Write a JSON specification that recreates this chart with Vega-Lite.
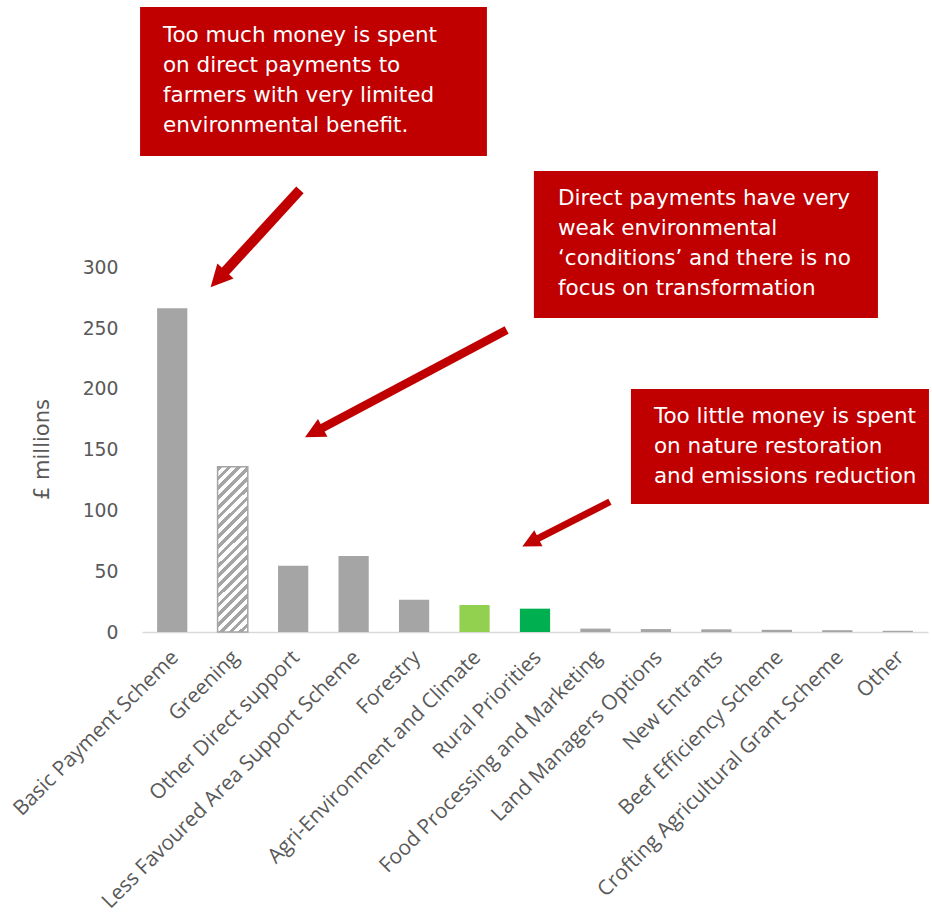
{
  "$schema": "https://vega.github.io/schema/vega-lite/v6.json",
  "width": 786,
  "height": 632,
  "autosize": {"type": "none"},
  "padding": {"left": 142, "top": 0, "right": 4, "bottom": 283},
  "background": "#FFFFFF",
  "config": {"view": {"stroke": null}},
  "datasets": {
    "bars": [
      {"category": "Basic Payment Scheme", "value": 266.4, "kind": "standard"},
      {"category": "Greening", "value": 136.0, "kind": "greening"},
      {"category": "Other Direct support", "value": 54.6, "kind": "standard"},
      {"category": "Less Favoured Area Support Scheme", "value": 62.5, "kind": "standard"},
      {"category": "Forestry", "value": 26.6, "kind": "standard"},
      {"category": "Agri-Environment and Climate", "value": 22.2, "kind": "agri"},
      {"category": "Rural Priorities", "value": 19.2, "kind": "rural"},
      {"category": "Food Processing and Marketing", "value": 2.8, "kind": "standard"},
      {"category": "Land Managers Options", "value": 2.4, "kind": "standard"},
      {"category": "New Entrants", "value": 2.2, "kind": "standard"},
      {"category": "Beef Efficiency Scheme", "value": 1.8, "kind": "standard"},
      {"category": "Crofting Agricultural Grant Scheme", "value": 1.5, "kind": "standard"},
      {"category": "Other", "value": 1.0, "kind": "standard"}
    ],
    "boxes": [
      {"id": "b1", "x": -0.032, "x2": 5.705, "y": 514.4, "y2": 391.8},
      {"id": "b2", "x": 6.482, "x2": 12.172, "y": 379.4, "y2": 258.4},
      {"id": "b3", "x": 8.087, "x2": 13.016, "y": 200.0, "y2": 105.3}
    ],
    "notes": [
      {"id": "b1", "x": 0.346, "y": 485.3, "label": "Too much money is spent\non direct payments to\nfarmers with very limited\nenvironmental benefit."},
      {"id": "b2", "x": 6.88, "y": 351.4, "label": "Direct payments have very\nweak environmental\n‘conditions’ and there is no\nfocus on transformation"},
      {"id": "b3", "x": 8.467, "y": 171.8, "label": "Too little money is spent\non nature restoration\nand emissions reduction"}
    ],
    "arrows": [
      {"id": "a1", "x": 2.612, "y": 363.8, "x2": 1.2575, "y2": 290.4, "heading": 222.5},
      {"id": "a2", "x": 6.031, "y": 248.6, "x2": 2.842, "y2": 164.2, "heading": 242.0},
      {"id": "a3", "x": 7.739, "y": 107.2, "x2": 6.423, "y2": 73.7, "heading": 242.9}
    ]
  },
  "layer": [
    {
      "data": {"name": "bars"},
      "layer": [
        {
          "mark": {"type": "bar"},
          "encoding": {
            "x": {
              "field": "category", "type": "nominal",
              "scale": {
                "domain": ["Basic Payment Scheme", "Greening", "Other Direct support", "Less Favoured Area Support Scheme", "Forestry", "Agri-Environment and Climate", "Rural Priorities", "Food Processing and Marketing", "Land Managers Options", "New Entrants", "Beef Efficiency Scheme", "Crofting Agricultural Grant Scheme", "Other"],
                "paddingInner": 0.5, "paddingOuter": 0.25
              },
              "axis": {
                "title": null, "ticks": false, "tickSize": 0, "labelAngle": -45,
                "labelFont": "Open Sans", "labelFontSize": 20.8, "labelColor": "#595959",
                "labelPadding": 15, "labelOffset": -4, "labelLimit": 500,
                "domainColor": "#D9D9D9", "domainWidth": 1.5
              }
            },
            "y": {
              "field": "value", "type": "quantitative",
              "scale": {"domain": [0, 520.16], "nice": false, "zero": true},
              "axis": {
                "values": [0, 50, 100, 150, 200, 250, 300],
                "domain": false, "ticks": false, "tickSize": 0, "grid": false,
                "labelFont": "DejaVu Sans", "labelFontSize": 18.8, "labelColor": "#595959",
                "labelPadding": 24,
                "title": "£ millions", "titleFont": "DejaVu Sans", "titleFontSize": 21,
                "titleFontWeight": "normal", "titleColor": "#595959",
                "titleX": -100, "titleY": 449, "titleAlign": "center", "titleBaseline": "middle"
              }
            },
            "color": {
              "field": "kind", "type": "nominal",
              "scale": {"domain": ["standard", "greening", "agri", "rural"], "range": ["#A5A5A5", "#FFFFFF", "#92D050", "#00B050"]},
              "legend": null
            }
          }
        },
        {
          "transform": [{"filter": "datum.kind === 'greening'"}],
          "mark": {
            "type": "bar",
            "stroke": "#A5A5A5",
            "strokeWidth": 1.5,
            "fill": {
              "gradient": "linear", "x1": 0, "y1": 0, "x2": 0.208, "y2": 1.144,
              "stops": [
                {"offset": 0, "color": "#A5A5A5"}, {"offset": 0.024, "color": "#A5A5A5"}, {"offset": 0.024, "color": "#FFFFFF"}, {"offset": 0.05, "color": "#FFFFFF"},
                {"offset": 0.05, "color": "#A5A5A5"}, {"offset": 0.074, "color": "#A5A5A5"}, {"offset": 0.074, "color": "#FFFFFF"}, {"offset": 0.1, "color": "#FFFFFF"},
                {"offset": 0.1, "color": "#A5A5A5"}, {"offset": 0.124, "color": "#A5A5A5"}, {"offset": 0.124, "color": "#FFFFFF"}, {"offset": 0.15, "color": "#FFFFFF"},
                {"offset": 0.15, "color": "#A5A5A5"}, {"offset": 0.174, "color": "#A5A5A5"}, {"offset": 0.174, "color": "#FFFFFF"}, {"offset": 0.2, "color": "#FFFFFF"},
                {"offset": 0.2, "color": "#A5A5A5"}, {"offset": 0.224, "color": "#A5A5A5"}, {"offset": 0.224, "color": "#FFFFFF"}, {"offset": 0.25, "color": "#FFFFFF"},
                {"offset": 0.25, "color": "#A5A5A5"}, {"offset": 0.274, "color": "#A5A5A5"}, {"offset": 0.274, "color": "#FFFFFF"}, {"offset": 0.3, "color": "#FFFFFF"},
                {"offset": 0.3, "color": "#A5A5A5"}, {"offset": 0.324, "color": "#A5A5A5"}, {"offset": 0.324, "color": "#FFFFFF"}, {"offset": 0.35, "color": "#FFFFFF"},
                {"offset": 0.35, "color": "#A5A5A5"}, {"offset": 0.374, "color": "#A5A5A5"}, {"offset": 0.374, "color": "#FFFFFF"}, {"offset": 0.4, "color": "#FFFFFF"},
                {"offset": 0.4, "color": "#A5A5A5"}, {"offset": 0.424, "color": "#A5A5A5"}, {"offset": 0.424, "color": "#FFFFFF"}, {"offset": 0.45, "color": "#FFFFFF"},
                {"offset": 0.45, "color": "#A5A5A5"}, {"offset": 0.474, "color": "#A5A5A5"}, {"offset": 0.474, "color": "#FFFFFF"}, {"offset": 0.5, "color": "#FFFFFF"},
                {"offset": 0.5, "color": "#A5A5A5"}, {"offset": 0.524, "color": "#A5A5A5"}, {"offset": 0.524, "color": "#FFFFFF"}, {"offset": 0.55, "color": "#FFFFFF"},
                {"offset": 0.55, "color": "#A5A5A5"}, {"offset": 0.574, "color": "#A5A5A5"}, {"offset": 0.574, "color": "#FFFFFF"}, {"offset": 0.6, "color": "#FFFFFF"},
                {"offset": 0.6, "color": "#A5A5A5"}, {"offset": 0.624, "color": "#A5A5A5"}, {"offset": 0.624, "color": "#FFFFFF"}, {"offset": 0.65, "color": "#FFFFFF"},
                {"offset": 0.65, "color": "#A5A5A5"}, {"offset": 0.674, "color": "#A5A5A5"}, {"offset": 0.674, "color": "#FFFFFF"}, {"offset": 0.7, "color": "#FFFFFF"},
                {"offset": 0.7, "color": "#A5A5A5"}, {"offset": 0.724, "color": "#A5A5A5"}, {"offset": 0.724, "color": "#FFFFFF"}, {"offset": 0.75, "color": "#FFFFFF"},
                {"offset": 0.75, "color": "#A5A5A5"}, {"offset": 0.774, "color": "#A5A5A5"}, {"offset": 0.774, "color": "#FFFFFF"}, {"offset": 0.8, "color": "#FFFFFF"},
                {"offset": 0.8, "color": "#A5A5A5"}, {"offset": 0.824, "color": "#A5A5A5"}, {"offset": 0.824, "color": "#FFFFFF"}, {"offset": 0.85, "color": "#FFFFFF"},
                {"offset": 0.85, "color": "#A5A5A5"}, {"offset": 0.874, "color": "#A5A5A5"}, {"offset": 0.874, "color": "#FFFFFF"}, {"offset": 0.9, "color": "#FFFFFF"},
                {"offset": 0.9, "color": "#A5A5A5"}, {"offset": 0.924, "color": "#A5A5A5"}, {"offset": 0.924, "color": "#FFFFFF"}, {"offset": 0.95, "color": "#FFFFFF"},
                {"offset": 0.95, "color": "#A5A5A5"}, {"offset": 0.974, "color": "#A5A5A5"}, {"offset": 0.974, "color": "#FFFFFF"}, {"offset": 1, "color": "#FFFFFF"}
              ]
            }
          },
          "encoding": {
            "x": {
              "field": "category", "type": "nominal",
              "scale": {
                "domain": ["Basic Payment Scheme", "Greening", "Other Direct support", "Less Favoured Area Support Scheme", "Forestry", "Agri-Environment and Climate", "Rural Priorities", "Food Processing and Marketing", "Land Managers Options", "New Entrants", "Beef Efficiency Scheme", "Crofting Agricultural Grant Scheme", "Other"],
                "paddingInner": 0.5, "paddingOuter": 0.25
              }
            },
            "y": {"field": "value", "type": "quantitative", "title": "£ millions"}
          }
        }
      ]
    },
    {
      "layer": [
        {
          "data": {"name": "boxes"},
          "mark": {"type": "rect", "fill": "#C00000"},
          "encoding": {
            "x": {"field": "x", "type": "quantitative", "scale": {"domain": [0, 13], "nice": false, "zero": false}, "axis": null},
            "x2": {"field": "x2"},
            "y": {"field": "y", "type": "quantitative", "title": "£ millions"},
            "y2": {"field": "y2"}
          }
        },
        {
          "data": {"name": "notes"},
          "mark": {"type": "text", "align": "left", "baseline": "alphabetic", "font": "DejaVu Sans", "fontSize": 21.5, "lineHeight": 30, "lineBreak": "\n", "color": "#FFFFFF"},
          "encoding": {
            "x": {"field": "x", "type": "quantitative", "scale": {"domain": [0, 13], "nice": false, "zero": false}, "axis": null},
            "y": {"field": "y", "type": "quantitative", "title": "£ millions"},
            "text": {"field": "label", "type": "nominal"}
          }
        },
        {
          "data": {"name": "arrows"},
          "mark": {"type": "rule", "color": "#C00000", "strokeCap": "butt"},
          "encoding": {
            "x": {"field": "x", "type": "quantitative", "scale": {"domain": [0, 13], "nice": false, "zero": false}, "axis": null},
            "x2": {"field": "x2"},
            "y": {"field": "y", "type": "quantitative", "title": "£ millions"},
            "y2": {"field": "y2"},
            "strokeWidth": {"field": "id", "type": "nominal", "scale": {"domain": ["a1", "a2", "a3"], "range": [10, 7, 6]}, "legend": null}
          }
        },
        {
          "data": {"name": "arrows"},
          "mark": {"type": "point", "shape": "M0,-1L1,1L-1,1Z", "filled": true, "fill": "#C00000", "opacity": 1, "strokeWidth": 0},
          "encoding": {
            "x": {"field": "x2", "type": "quantitative", "scale": {"domain": [0, 13], "nice": false, "zero": false}, "axis": null},
            "y": {"field": "y2", "type": "quantitative", "title": "£ millions"},
            "angle": {"field": "heading", "type": "quantitative", "scale": null},
            "size": {"field": "id", "type": "nominal", "scale": {"domain": ["a1", "a2", "a3"], "range": [484, 324, 256]}, "legend": null}
          }
        }
      ]
    }
  ],
  "resolve": {"scale": {"x": "independent", "size": "independent", "strokeWidth": "independent"}, "axis": {"x": "independent"}}
}
